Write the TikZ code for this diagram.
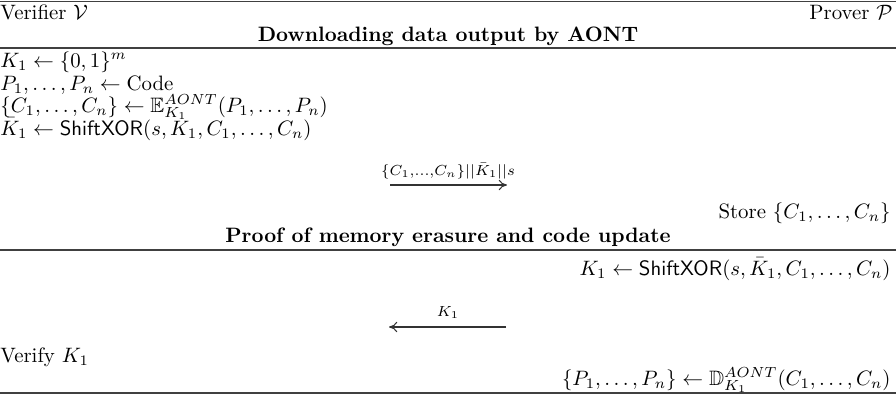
\documentclass[tikz,border=0pt]{standalone}
\usepackage{amssymb}
\usetikzlibrary{arrows.meta}
\begin{document}
\begin{tikzpicture}[x=0.48pt,y=-0.48pt,
  rule/.style={draw=black!75,line width=0.5pt},
  lt/.style={anchor=base west,inner sep=0pt},
  rt/.style={anchor=base east,inner sep=0pt},
  ct/.style={anchor=base,inner sep=0pt,font=\bfseries},
  msg/.style={draw=black!80,line width=0.5pt,-{To[length=4pt,width=5pt]}},
  lbl/.style={inner sep=0pt,anchor=base}]
\useasboundingbox (0,0) rectangle (896,395);
\draw[rule] (0,1.5) -- (896,1.5);
\node[lt] (ver) at (0,19) {Verifier $\mathcal{V}$};
\node[rt] (prov) at (893,19) {Prover $\mathcal{P}$};
\node[ct] (h1) at (448,41) {Downloading data output by AONT};
\draw[rule] (0,48) -- (896,48);
\node[lt] (l1) at (0,67) {$K_1 \leftarrow \{0,1\}^m$};
\node[lt] (l2) at (0,90) {$P_1,\ldots,P_n \leftarrow \mathrm{Code}$};
\node[lt] (l3) at (0,112) {$\{C_1,\ldots,C_n\} \leftarrow \mathbb{E}^{AONT}_{K_1}(P_1,\ldots,P_n)$};
\node[lt] (l4) at (0,135) {$\bar{K}_1 \leftarrow \mathsf{ShiftXOR}(s,K_1,C_1,\ldots,C_n)$};
\coordinate (a1s) at (390,185);
\coordinate (a1e) at (507,185);
\draw[msg] (a1s) -- (a1e);
\node[lbl] (m1) at (448,175) {$\scriptstyle \{C_1,\ldots,C_n\}||\bar{K}_1||s$};
\node[rt] (st) at (891,218) {Store $\{C_1,\ldots,C_n\}$};
\node[ct] (h2) at (448,242) {Proof of memory erasure and code update};
\draw[rule] (0,250) -- (896,250);
\node[rt] (r1) at (891,275) {$K_1 \leftarrow \mathsf{ShiftXOR}(s,\bar{K}_1,C_1,\ldots,C_n)$};
\coordinate (a2s) at (506,327);
\coordinate (a2e) at (389,327);
\draw[msg] (a2s) -- (a2e);
\node[lbl] (m2) at (448,316) {$\scriptstyle K_1$};
\node[lt] (vk) at (0,362) {Verify $K_1$};
\node[rt] (r2) at (891,385) {$\{P_1,\ldots,P_n\} \leftarrow \mathbb{D}^{AONT}_{K_1}(C_1,\ldots,C_n)$};
\draw[rule] (0,393) -- (896,393);
\end{tikzpicture}
\end{document}
